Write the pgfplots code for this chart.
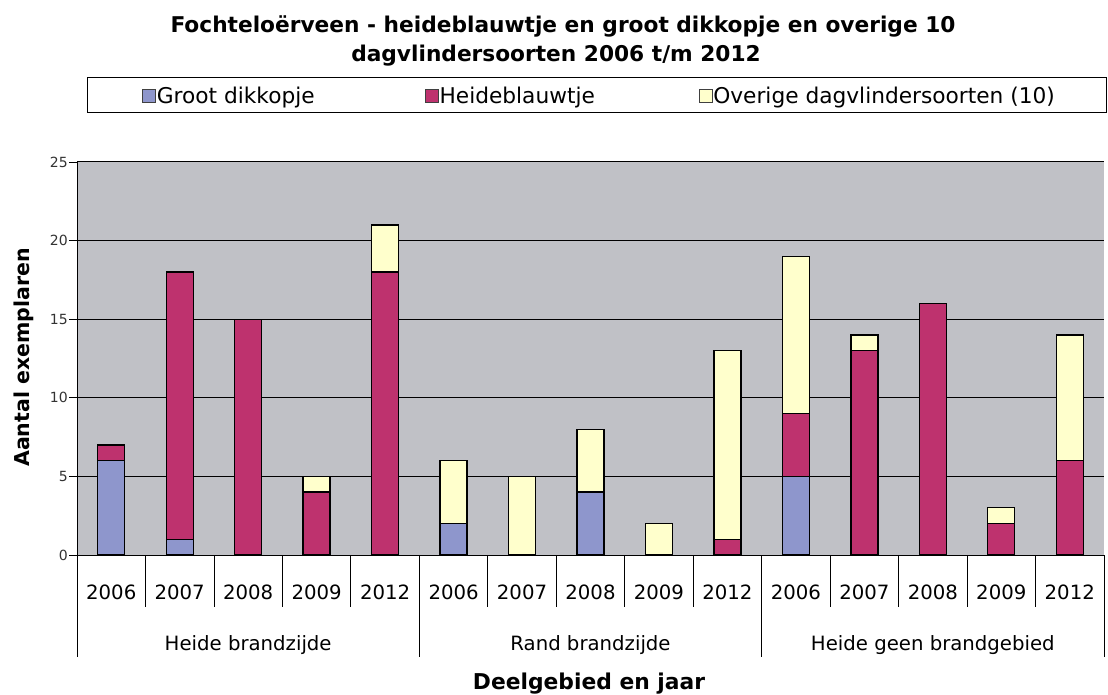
\documentclass[border=0pt]{standalone}
\usepackage{fontspec}
\setmainfont{DejaVu Sans}
\usepackage{pgfplots}
\pgfplotsset{compat=1.18}
\usepackage{pgfplotstable}
\definecolor{plotbg}{RGB}{192,193,198}
\definecolor{groot}{RGB}{142,150,204}
\definecolor{heide}{RGB}{190,50,110}
\definecolor{overig}{RGB}{255,255,204}

\pgfplotstableread{
x G H O
0 6 1 0
1 1 17 0
2 0 15 0
3 0 4 1
4 0 18 3
5 2 0 4
6 0 0 5
7 4 0 4
8 0 0 2
9 0 1 12
10 5 4 10
11 0 13 1
12 0 16 0
13 0 2 1
14 0 6 8
}\data

\pgfplotsset{mylegend/.style={legend image code/.code={\draw[#1, draw=black!75, line width=0.7bp] (0bp,-6.5bp) rectangle (13bp,6.5bp);}}}

\begin{document}
\begin{tikzpicture}
\path[use as bounding box] (0,0) rectangle (1108bp,695bp);
\begin{axis}[
  at={(77bp,140bp)}, anchor=south west,
  scale only axis, width=1027bp, height=393bp,
  xmin=-0.5, xmax=14.5, ymin=0, ymax=25,
  ybar stacked, bar width=27bp,
  clip=false,
  axis background/.style={fill=plotbg},
  axis lines*=left, axis line style={-, black, line width=1bp},
  tick align=outside, major tick length=8bp,
  xtick style={draw=none},
  ytick style={black, line width=0.8bp},
  xtick={0,...,14},
  xticklabels={2006,2007,2008,2009,2012,2006,2007,2008,2009,2012,2006,2007,2008,2009,2012},
  xticklabel style={font=\fontsize{19.7bp}{20bp}\selectfont, anchor=base, yshift=-36bp},
  ytick={0,5,10,15,20},
  extra y ticks={25},
  extra y tick style={grid style={black!45, line width=1bp}},
  /pgf/number format/assume math mode=true,
  yticklabel style={font=\fontsize{14bp}{14bp}\selectfont, text=black!80, inner xsep=1bp},
  ymajorgrids, major grid style={black, line width=1bp},
  legend style={draw=none, fill=none, at={(axis description cs:0.0633,1.169)}, anchor=west,
    legend columns=3, inner sep=0pt, nodes={inner sep=1bp},
    font=\fontsize{21.7bp}{22bp}\selectfont,
    /tikz/every even column/.append style={column sep=0pt}},
  legend cell align=left,
]
\addplot[fill=groot, draw=black, line width=1.3bp, mylegend] table[x=x,y=G]{\data};
\addlegendentry{\makebox[267bp][l]{Groot dikkopje}}
\addplot[fill=heide, draw=black, line width=1.3bp, mylegend] table[x=x,y=H]{\data};
\addlegendentry{\makebox[258bp][l]{Heideblauwtje}}
\addplot[fill=overig, draw=black, line width=1.3bp, mylegend] table[x=x,y=O]{\data};
\addlegendentry{Overige dagvlindersoorten (10)}

\pgfplotsinvokeforeach{0.5,1.5,2.5,3.5,5.5,6.5,7.5,8.5,10.5,11.5,12.5,13.5}{
  \draw[black, line width=0.8bp] (axis cs:#1,0) -- ++(0bp,-52bp);
}
\pgfplotsinvokeforeach{-0.5,4.5,9.5,14.5}{
  \draw[black, line width=0.8bp] (axis cs:#1,0) -- ++(0bp,-102bp);
}
\node[anchor=base, font=\fontsize{19.7bp}{20bp}\selectfont, yshift=-95bp] at (axis cs:2,0) {Heide brandzijde};
\node[anchor=base, font=\fontsize{19.7bp}{20bp}\selectfont, yshift=-95bp] at (axis cs:7,0) {Rand brandzijde};
\node[anchor=base, font=\fontsize{19.7bp}{20bp}\selectfont, yshift=-95bp] at (axis cs:12,0) {Heide geen brandgebied};
\end{axis}
\draw[black, line width=1bp] (87bp,582bp) rectangle (1106bp,617bp);
\node[anchor=base, font=\bfseries\fontsize{21.7bp}{22bp}\selectfont] at (563bp,662bp) {Fochteloërveen - heideblauwtje en groot dikkopje en overige 10};
\node[anchor=base, font=\bfseries\fontsize{21.7bp}{22bp}\selectfont] at (556bp,633bp) {dagvlindersoorten 2006 t/m 2012};
\node[rotate=90, font=\bfseries\fontsize{20.5bp}{20bp}\selectfont] at (24bp,337.5bp) {Aantal exemplaren};
\node[anchor=base, font=\bfseries\fontsize{21.8bp}{22bp}\selectfont] at (589bp,6bp) {Deelgebied en jaar};
\end{tikzpicture}
\end{document}
